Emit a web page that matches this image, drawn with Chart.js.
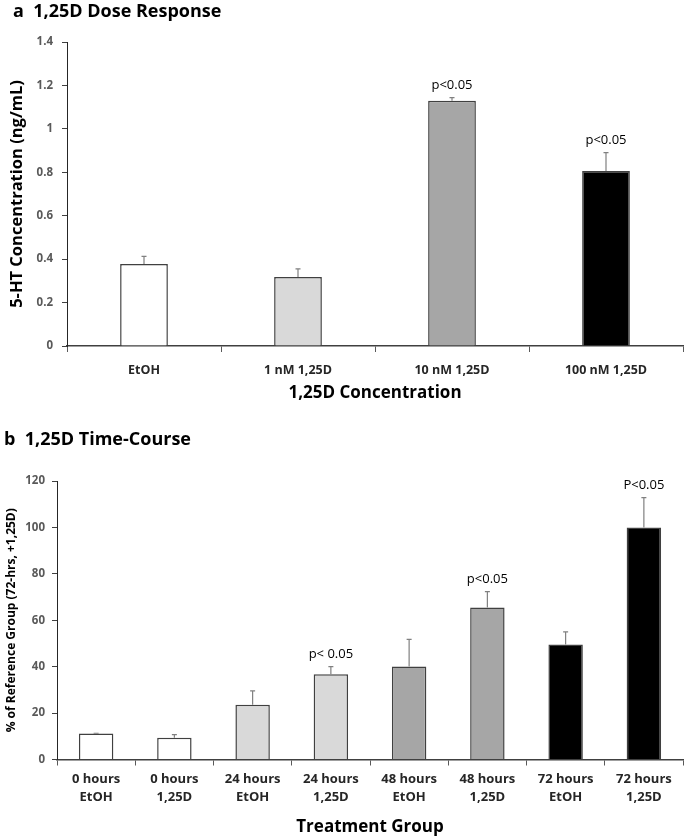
<!DOCTYPE html>
<html>
<head>
<meta charset="utf-8">
<script src="https://cdn.jsdelivr.net/npm/chart.js@4.4.1/dist/chart.umd.min.js"></script>
<style>
  body { margin: 0; background: #fff; font-family: "Open Sans", sans-serif; }
  #page { position: relative; width: 685px; height: 839px; overflow: hidden; }
  .panel_title { position: absolute; font-weight: bold; font-size: 18px; color: #000; white-space: pre; line-height: 20px; }
  .box { position: absolute; left: 0; width: 685px; }
</style>
</head>
<body>
<div id="page">
  <div class="box" id="dose_box" style="top:0; height:410px;"><canvas id="dose_chart"></canvas></div>
  <div class="box" id="time_box" style="top:420px; height:419px;"><canvas id="time_chart"></canvas></div>
  <div class="panel_title" style="left:13px; top:0px;">a  1,25D Dose Response</div>
  <div class="panel_title" style="left:4px; top:428px;">b  1,25D Time-Course</div>
</div>
<script>
// panel a
const dose_labels = ['EtOH', '1 nM 1,25D', '10 nM 1,25D', '100 nM 1,25D'];
const dose_means = [0.378, 0.318, 1.13, 0.806];
const dose_err = [0.035, 0.037, 0.014, 0.085];
const dose_notes = ['', '', 'p<0.05', 'p<0.05'];
const dose_colors = ['#ffffff', '#d9d9d9', '#a6a6a6', '#000000'];

// panel b
const time_labels = [['0 hours', 'EtOH'], ['0 hours', '1,25D'], ['24 hours', 'EtOH'], ['24 hours', '1,25D'],
                     ['48 hours', 'EtOH'], ['48 hours', '1,25D'], ['72 hours', 'EtOH'], ['72 hours', '1,25D']];
const time_means = [11.2, 9.4, 23.6, 36.7, 40.1, 65.5, 49.5, 100];
const time_err = [0.1, 1.3, 6.0, 3.3, 11.7, 6.8, 5.5, 12.8];
const time_notes = ['', '', '', 'p< 0.05', '', 'p<0.05', '', 'P<0.05'];
const time_colors = ['#ffffff', '#ffffff', '#d9d9d9', '#d9d9d9', '#a6a6a6', '#a6a6a6', '#000000', '#000000'];

const font_name = '"Open Sans", sans-serif';

function error_bars(errors, notes) {
    return {
        id: 'error_bars',
        afterDatasetsDraw(chart) {
            const ctx = chart.ctx;
            const yscale = chart.scales.y;
            const values = chart.data.datasets[0].data;
            ctx.save();
            chart.getDatasetMeta(0).data.forEach((bar, i) => {
                const top = yscale.getPixelForValue(values[i] + errors[i]);
                ctx.strokeStyle = '#808080';
                ctx.lineWidth = 1.2;
                ctx.beginPath();
                ctx.moveTo(bar.x, bar.y);
                ctx.lineTo(bar.x, top);
                ctx.moveTo(bar.x - 2.5, top);
                ctx.lineTo(bar.x + 2.5, top);
                ctx.stroke();
                if (notes[i]) {
                    ctx.fillStyle = '#000';
                    ctx.font = '13px ' + font_name;
                    ctx.textAlign = 'center';
                    ctx.textBaseline = 'bottom';
                    ctx.fillText(notes[i], bar.x, top - 6);
                }
            });
            ctx.restore();
        }
    };
}

function make_chart(canvas_id, labels, values, colors, errors, notes, opt) {
    return new Chart(document.getElementById(canvas_id), {
        type: 'bar',
        data: {
            labels: labels,
            datasets: [{
                data: values,
                backgroundColor: colors,
                borderColor: '#404040',
                borderWidth: 1.5,
                borderSkipped: 'bottom',
                barPercentage: opt.bar_pct,
                categoryPercentage: 1
            }]
        },
        options: {
            responsive: true,
            maintainAspectRatio: false,
            animation: false,
            layout: { padding: { top: opt.pad_top, right: 2, left: 0, bottom: 0 } },
            plugins: { legend: { display: false }, tooltip: { enabled: false } },
            scales: {
                x: {
                    afterFit: (scale) => { scale.height = opt.x_height; },
                    grid: { drawOnChartArea: false, drawTicks: true, tickLength: 6, color: '#595959', offset: true },
                    border: { color: '#404040', width: 1.5 },
                    ticks: {
                        color: '#262626', padding: opt.x_tick_pad, maxRotation: 0, autoSkip: false,
                        font: { family: font_name, size: opt.x_tick_size, weight: 'bold', lineHeight: opt.x_tick_lh }
                    },
                    title: {
                        display: true, text: opt.x_title, color: '#000',
                        font: { family: font_name, size: 17, weight: 'bold' },
                        padding: { top: 0, bottom: opt.x_title_pad }
                    }
                },
                y: {
                    min: 0, max: opt.y_max,
                    afterFit: (scale) => { scale.width = opt.y_width; },
                    grid: { drawOnChartArea: false, drawTicks: true, tickLength: 5, color: '#404040' },
                    border: { color: '#262626', width: 1 },
                    ticks: {
                        stepSize: opt.y_step, color: '#595959', padding: opt.y_tick_pad,
                        font: { family: font_name, size: 11.5, weight: 'bold' },
                        callback: (v) => String(Math.round(v * 10) / 10)
                    },
                    title: {
                        display: true, text: opt.y_title, color: '#000',
                        font: { family: font_name, size: opt.y_title_size, weight: 'bold' },
                        padding: { top: opt.y_title_pad, bottom: 0 }
                    }
                }
            }
        },
        plugins: [error_bars(errors, notes)]
    });
}

make_chart('dose_chart', dose_labels, dose_means, dose_colors, dose_err, dose_notes, {
    bar_pct: 0.31, pad_top: 42, x_height: 64, y_width: 67, y_max: 1.4, y_step: 0.2,
    x_tick_pad: 11, x_tick_size: 12.5, x_tick_lh: 1.2, x_title: '1,25D Concentration', x_title_pad: 7,
    y_title: '5-HT Concentration (ng/mL)', y_title_size: 16.5, y_title_pad: 7, y_tick_pad: 9
});

make_chart('time_chart', time_labels, time_means, time_colors, time_err, time_notes, {
    bar_pct: 0.44, pad_top: 61, x_height: 79.5, y_width: 57, y_max: 120, y_step: 20,
    x_tick_pad: 4, x_tick_size: 13, x_tick_lh: 1.45, x_title: 'Treatment Group', x_title_pad: 2,
    y_title: '% of Reference Group (72-hrs, +1,25D)', y_title_size: 12, y_title_pad: 4, y_tick_pad: 7
});
</script>
</body>
</html>
